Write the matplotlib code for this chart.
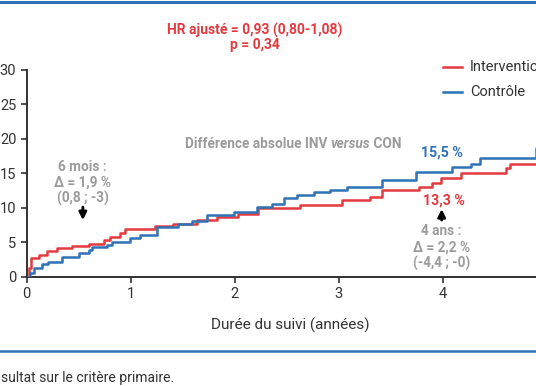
import matplotlib.pyplot as plt
from matplotlib.lines import Line2D

# Kaplan-Meier style cumulative incidence (%)
t_inv = [0, 0.025, 0.04, 0.115, 0.195, 0.29, 0.435, 0.6, 0.74, 0.80, 0.9, 0.95,
         1.235, 1.41, 1.64, 1.83, 2.03, 2.22, 2.63, 3.03, 3.3, 3.42, 3.77, 3.9,
         3.98, 4.18, 4.61, 4.65, 5.2]
v_inv = [0, 1.2, 2.7, 3.1, 3.7, 4.1, 4.4, 4.8, 5.3, 5.8, 6.4, 6.9,
         7.3, 7.6, 8.2, 8.7, 9.1, 9.9, 10.4, 11.1, 11.6, 12.6, 13.0, 13.6,
         14.3, 15.0, 15.7, 16.3, 16.3]

t_con = [0, 0.03, 0.07, 0.15, 0.2, 0.34, 0.5, 0.6, 0.63, 0.77, 0.82, 0.995,
         1.09, 1.25, 1.455, 1.585, 1.73, 1.99, 2.21, 2.36, 2.47, 2.6, 2.76,
         2.92, 3.08, 3.42, 3.74, 4.09, 4.27, 4.36, 4.9, 5.2]
v_con = [0, 0.5, 1.2, 1.8, 2.2, 2.8, 3.4, 3.9, 4.35, 4.6, 5.0, 5.6,
         6.1, 7.2, 7.6, 8.1, 8.9, 9.4, 10.1, 10.6, 11.4, 11.9, 12.3,
         12.6, 13.0, 14.0, 15.2, 15.9, 16.4, 17.2, 18.6, 18.6]

x_ticks = [0, 1, 2, 3, 4]
y_ticks = [0, 5, 10, 15, 20, 25, 30]
series_labels = ["Intervention", "Contrôle"]

RED = "#e23a3f"
BLUE = "#2f72b5"
GRAY = "#9b9b9b"
DARK = "#333333"

plt.rcParams["font.family"] = ["Roboto", "DejaVu Sans"]


def draw_curves(ax):
    ax.step(t_inv, v_inv, where="post", color=RED, lw=1.8, zorder=3)
    ax.step(t_con, v_con, where="post", color=BLUE, lw=1.8, zorder=3)

    ax.set_xlim(0, 5.2)
    ax.set_ylim(0, 30)
    ax.set_xticks(x_ticks)
    ax.set_yticks(y_ticks)
    ax.tick_params(labelsize=10.5, colors=DARK, width=1.2, length=4, direction="out")
    ax.spines["top"].set_visible(False)
    ax.spines["right"].set_visible(False)
    for s in ("left", "bottom"):
        ax.spines[s].set_linewidth(1.3)
        ax.spines[s].set_color("#222222")


def draw_annotations(ax):
    fs = 9.8
    t1 = ax.text(1.52, 19.2, "Différence absolue INV ", color=GRAY, fontsize=fs,
                 fontweight="bold", ha="left", va="center")
    t2 = ax.annotate("versus", xy=(1, 0), xycoords=t1, color=GRAY, fontsize=fs,
                     fontweight="bold", fontstyle="italic", ha="left", va="bottom")
    ax.annotate(" CON", xy=(1, 0), xycoords=t2, color=GRAY, fontsize=fs,
                fontweight="bold", ha="left", va="bottom")

    ax.text(3.99, 18.0, "15,5 %", color=BLUE, fontsize=10.2, fontweight="bold",
            ha="center", va="center")
    ax.text(4.01, 11.1, "13,3 %", color=RED, fontsize=10.2, fontweight="bold",
            ha="center", va="center")

    ax.annotate("", xy=(3.99, 10.2), xytext=(3.99, 7.8),
                arrowprops=dict(arrowstyle="-|>", color="k", lw=2.0, mutation_scale=11))
    ax.annotate("", xy=(0.54, 7.8), xytext=(0.54, 10.5),
                arrowprops=dict(arrowstyle="-|>", color="k", lw=2.0, mutation_scale=11))

    ax.text(3.99, 4.2, "4 ans :\nΔ = 2,2 %\n(-4,4 ; -0)", color=GRAY, fontsize=fs,
            fontweight="bold", ha="center", va="center", linespacing=1.15)
    ax.text(0.54, 13.55, "6 mois :\nΔ = 1,9 %\n(0,8 ; -3)", color=GRAY, fontsize=fs,
            fontweight="bold", ha="center", va="center", linespacing=1.15)


def draw_frame(fig):
    W, H = 536, 386
    fig.text(255 / W, 1 - 37 / H, "HR ajusté = 0,93 (0,80-1,08)\np = 0,34",
             color=RED, fontsize=10, fontweight="bold", ha="center", va="center",
             linespacing=1.0)

    # legend
    for i, (lab, col) in enumerate(zip(series_labels, [RED, BLUE])):
        y = 1 - (67 + 25 * i) / H
        fig.add_artist(Line2D([443 / W, 462 / W], [y, y], color=col, lw=1.8))
        fig.text(470 / W, y, lab, color=DARK, fontsize=10.5, ha="left", va="center")

    fig.text(290 / W, 1 - 325 / H, "Durée du suivi (années)", color=DARK,
             fontsize=11, ha="center", va="center")

    fig.add_artist(Line2D([0, 1], [1 - 1.5 / H, 1 - 1.5 / H], color=BLUE, lw=2.2))
    fig.add_artist(Line2D([0, 1], [1 - 351 / H, 1 - 351 / H], color=BLUE, lw=1.8))

    fig.text(1 / W, 1 - 378 / H, "sultat sur le critère primaire.", color=DARK,
             fontsize=10, ha="left", va="center")


def main():
    W, H = 536, 386
    fig = plt.figure(figsize=(W / 100, H / 100), dpi=100)
    ax = fig.add_axes([26.7 / W, (H - 276.7) / H, 540.8 / W, 207 / H])
    draw_curves(ax)
    draw_annotations(ax)
    draw_frame(fig)
    fig.savefig("out.png", dpi=100)
    plt.close(fig)


if __name__ == "__main__":
    main()
